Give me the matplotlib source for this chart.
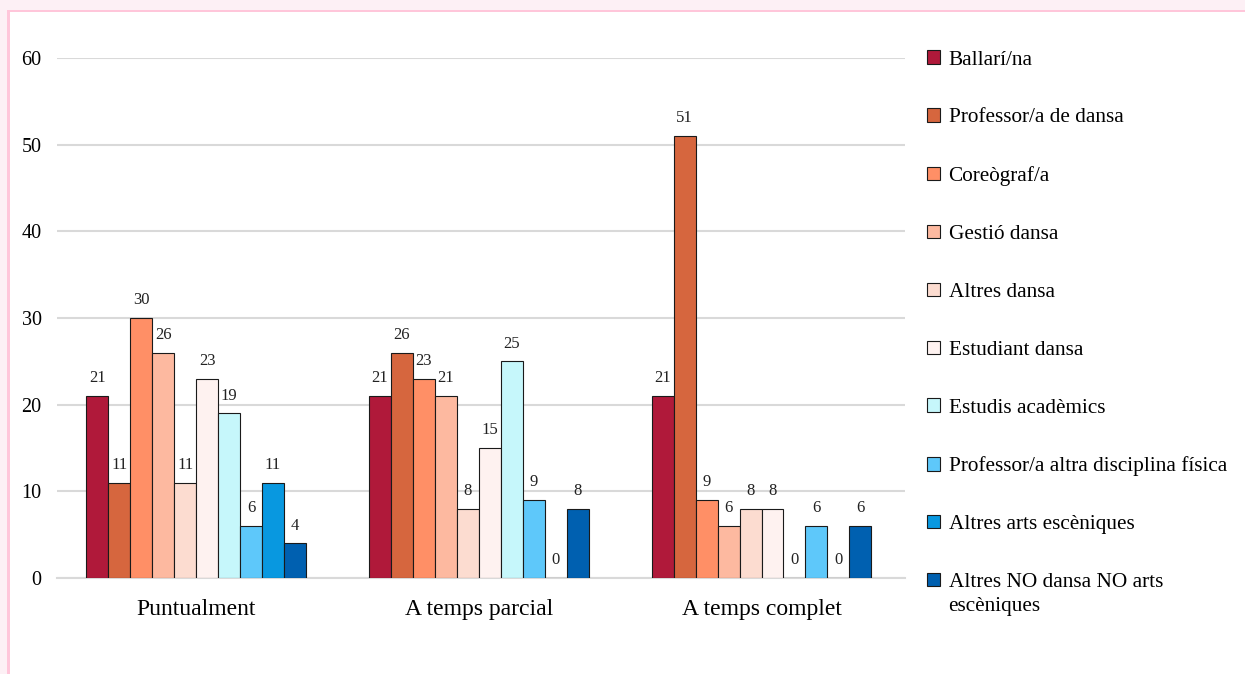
import numpy as np
import matplotlib
matplotlib.use("Agg")
import matplotlib.pyplot as plt
from matplotlib.patches import Rectangle

categories = ["Puntualment", "A temps parcial", "A temps complet"]
series = [
    "Ballarí/na",
    "Professor/a de dansa",
    "Coreògraf/a",
    "Gestió dansa",
    "Altres dansa",
    "Estudiant dansa",
    "Estudis acadèmics",
    "Professor/a altra disciplina física",
    "Altres arts escèniques",
    "Altres NO dansa NO arts escèniques",
]
values = [
    [21, 21, 21],
    [11, 26, 51],
    [30, 23, 9],
    [26, 21, 6],
    [11, 8, 8],
    [23, 15, 8],
    [19, 25, 0],
    [6, 9, 6],
    [11, 0, 0],
    [4, 8, 6],
]
colors = ["#B0193A", "#D6663E", "#FF8F66", "#FDB9A0", "#FCDCD0",
          "#FEF2F0", "#C6F7FB", "#5EC8FA", "#0898E0", "#0060B0"]
yticks = [0, 10, 20, 30, 40, 50, 60]

plt.rcParams["font.family"] = ["Liberation Serif", "DejaVu Serif"]

fig = plt.figure(figsize=(12.45, 6.74), dpi=100)
ax = fig.add_axes([0.0458, 0.1424, 0.727 - 0.0458, 0.914 - 0.1424])

# pink frame of the original box
fig.patches.append(Rectangle((0, 0.985), 1, 0.015, transform=fig.transFigure,
                             facecolor="#FDF0F5", edgecolor="none", zorder=-5))
fig.patches.append(Rectangle((0, 0), 0.0056, 1, transform=fig.transFigure,
                             facecolor="#FDF0F5", edgecolor="none", zorder=-5))
fig.patches.append(Rectangle((0.0056, 0), 0.0022, 0.985, transform=fig.transFigure,
                             facecolor="#FFC6DA", edgecolor="none", zorder=-4))
fig.patches.append(Rectangle((0.0056, 0.982), 0.9944, 0.003, transform=fig.transFigure,
                             facecolor="#FFC6DA", edgecolor="none", zorder=-4))

x = np.arange(len(categories))
n = len(series)
w = 0.0777
for i in range(n):
    pos = x + (i - (n - 1) / 2) * w
    bars = ax.bar(pos, values[i], w, color=colors[i], edgecolor="#1a1a1a",
                  linewidth=0.8, label=series[i], zorder=3)
    for b, v in zip(bars, values[i]):
        ax.annotate(str(v), (b.get_x() + b.get_width() / 2, v),
                    xytext=(0, 7), textcoords="offset points",
                    ha="center", va="bottom", fontsize=12, color="#222222")

ax.set_xlim(-0.492, 2.508)
ax.set_ylim(0, 60)
ax.set_yticks(yticks)
ax.set_xticks(x)
ax.set_xticklabels(categories, fontsize=17)
ax.tick_params(axis="y", length=0, pad=11, labelsize=14.5)
ax.tick_params(axis="x", length=0, pad=15)
ax.grid(axis="y", color="#D9D9D9", linewidth=1.5, zorder=0)
for s in ["top", "right", "left"]:
    ax.spines[s].set_visible(False)
ax.spines["bottom"].set_color("#D9D9D9")
ax.spines["bottom"].set_linewidth(1.5)

# last legend label wraps onto a second line in the original
leg_labels = series[:-1] + ["Altres NO dansa NO arts"]
handles, _ = ax.get_legend_handles_labels()
leg = ax.legend(handles, leg_labels, loc="upper left",
                bbox_to_anchor=(0.738, 0.938),
                bbox_transform=fig.transFigure, frameon=False, fontsize=15.3,
                handlelength=0.6, handleheight=0.6, handletextpad=0.4,
                labelspacing=1.82, borderaxespad=0)

fig.canvas.draw()
r = fig.canvas.get_renderer()
bb = leg.get_texts()[-1].get_window_extent(r).transformed(fig.transFigure.inverted())
fig.text(bb.x0, bb.y0 - 0.008, "escèniques", fontsize=15.3, ha="left", va="top")

fig.savefig("out.png", dpi=100, facecolor="white")
